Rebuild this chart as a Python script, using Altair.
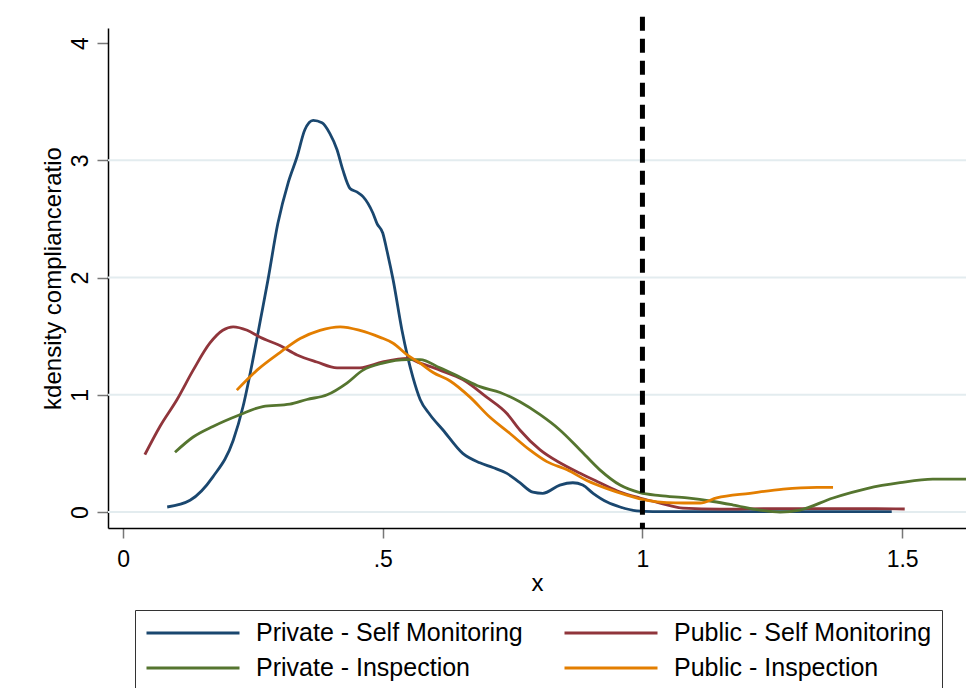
import altair as alt
import pandas as pd

# Kernel density estimates of the compliance ratio, by ownership and regime
series_names = [
    "Private - Self Monitoring",
    "Private - Inspection",
    "Public - Self Monitoring",
    "Public - Inspection",
]
series_colors = ["#1a476f", "#55752f", "#90353b", "#e37e00"]

priv_self_x = [0.085, 0.129, 0.173, 0.212, 0.231, 0.250, 0.265, 0.279, 0.298, 0.318,
               0.335, 0.350, 0.366, 0.383, 0.398, 0.412, 0.423, 0.437, 0.450, 0.462,
               0.481, 0.489, 0.500, 0.508, 0.520, 0.537, 0.558, 0.572, 0.591, 0.616,
               0.654, 0.687, 0.712, 0.739, 0.764, 0.789, 0.808, 0.841, 0.866, 0.885,
               0.905, 0.932, 0.957, 0.989, 1.020, 1.100, 1.200, 1.300, 1.400, 1.480]
priv_self_y = [0.043, 0.10, 0.30, 0.61, 0.90, 1.30, 1.65, 1.98, 2.46, 2.81,
               3.03, 3.26, 3.34, 3.32, 3.23, 3.09, 2.92, 2.76, 2.73, 2.69,
               2.55, 2.46, 2.38, 2.23, 1.98, 1.55, 1.15, 0.96, 0.83, 0.70,
               0.50, 0.42, 0.38, 0.33, 0.25, 0.17, 0.16, 0.23, 0.25, 0.23,
               0.16, 0.085, 0.043, 0.01, 0.003, 0.003, 0.003, 0.003, 0.003, 0.003]

pub_self_x = [0.042, 0.071, 0.104, 0.135, 0.167, 0.192, 0.212, 0.239, 0.264, 0.302,
              0.335, 0.373, 0.412, 0.456, 0.500, 0.547, 0.572, 0.610, 0.654, 0.700,
              0.739, 0.764, 0.803, 0.841, 0.880, 0.918, 0.957, 0.995, 1.034, 1.078,
              1.149, 1.250, 1.350, 1.450, 1.505]
pub_self_y = [0.49, 0.73, 0.96, 1.21, 1.44, 1.55, 1.58, 1.55, 1.49, 1.42,
              1.34, 1.28, 1.23, 1.23, 1.28, 1.31, 1.27, 1.21, 1.13, 0.98,
              0.84, 0.70, 0.53, 0.42, 0.33, 0.25, 0.17, 0.12, 0.077, 0.034,
              0.025, 0.03, 0.03, 0.03, 0.026]

priv_insp_x = [0.100, 0.135, 0.173, 0.225, 0.269, 0.321, 0.354, 0.393, 0.431, 0.462,
               0.500, 0.547, 0.572, 0.610, 0.649, 0.687, 0.726, 0.764, 0.803, 0.841,
               0.880, 0.918, 0.957, 0.995, 1.034, 1.086, 1.136, 1.175, 1.226, 1.265,
               1.303, 1.367, 1.432, 1.496, 1.559, 1.630]
priv_insp_y = [0.51, 0.64, 0.73, 0.83, 0.90, 0.92, 0.96, 1.00, 1.10, 1.21,
               1.27, 1.30, 1.30, 1.23, 1.15, 1.07, 1.02, 0.94, 0.83, 0.70,
               0.53, 0.36, 0.23, 0.165, 0.14, 0.12, 0.09, 0.06, 0.017, 0.0,
               0.017, 0.12, 0.20, 0.25, 0.28, 0.28]

pub_insp_x = [0.219, 0.258, 0.302, 0.341, 0.379, 0.418, 0.456, 0.495, 0.520, 0.547,
              0.572, 0.597, 0.629, 0.668, 0.706, 0.745, 0.783, 0.816, 0.855, 0.893,
              0.932, 0.970, 1.009, 1.047, 1.080, 1.111, 1.143, 1.207, 1.271, 1.336,
              1.367]
pub_insp_y = [1.04, 1.21, 1.36, 1.48, 1.55, 1.58, 1.55, 1.49, 1.44, 1.34,
              1.27, 1.19, 1.12, 0.98, 0.81, 0.67, 0.53, 0.43, 0.36, 0.27,
              0.20, 0.145, 0.10, 0.08, 0.077, 0.077, 0.12, 0.16, 0.196, 0.21,
              0.21]

x_ticks = [0, 0.5, 1, 1.5]
x_tick_labels = ["0", ".5", "1", "1.5"]
y_ticks = [0, 1, 2, 3, 4]
grid_values = [0, 1, 2, 3]
cutoff = 1.0

x_domain = [-0.029, 1.623]
y_domain = [-0.136, 4.128]
cutoff_top = 4.224

FONT = "Liberation Sans"

# drawing order: the four curves in their plotting sequence
draw_order = [
    ("Private - Self Monitoring", priv_self_x, priv_self_y),
    ("Public - Self Monitoring", pub_self_x, pub_self_y),
    ("Private - Inspection", priv_insp_x, priv_insp_y),
    ("Public - Inspection", pub_insp_x, pub_insp_y),
]
frames = [pd.DataFrame({"x": xs, "y": ys, "group": name}) for name, xs, ys in draw_order]
curves = pd.concat(frames, ignore_index=True)
curves["order"] = range(len(curves))

label_expr = " : ".join(
    f"datum.value == {v} ? '{lab}'" for v, lab in zip(x_ticks, x_tick_labels)
) + " : ''"

x_scale = alt.Scale(domain=x_domain, nice=False, zero=False)
y_scale = alt.Scale(domain=y_domain, nice=False, zero=False)

x_axis = alt.Axis(
    values=x_ticks,
    labelExpr=label_expr,
    title="x",
    tickSize=10,
    tickColor="#777777",
    tickWidth=1.5,
    domainColor="black",
    domainWidth=1.5,
    labelFontSize=23,
    labelPadding=10,
    labelColor="black",
    titleFontSize=24,
    titleFontWeight="normal",
    titleColor="black",
    titlePadding=0,
    grid=False,
)
y_axis = alt.Axis(
    values=y_ticks,
    format="d",
    labelAngle=-90,
    labelAlign="center",
    labelBaseline="bottom",
    labelFontSize=23,
    labelPadding=5,
    labelColor="black",
    tickSize=11,
    tickColor="#777777",
    tickWidth=1.5,
    domainColor="black",
    domainWidth=1.5,
    title="kdensity complianceratio",
    titleFontSize=24,
    titleFontWeight="normal",
    titleColor="black",
    titlePadding=4,
    grid=False,
)

grid = alt.Chart(pd.DataFrame({"g": grid_values})).mark_rule(
    color="#e3ecef", strokeWidth=2
).encode(y=alt.Y("g:Q", scale=y_scale, axis=y_axis))

lines = alt.Chart(curves).mark_line(strokeWidth=2.8, interpolate="monotone").encode(
    x=alt.X("x:Q", scale=x_scale, axis=x_axis),
    y=alt.Y("y:Q", scale=y_scale, axis=y_axis),
    color=alt.Color(
        "group:N",
        scale=alt.Scale(domain=series_names, range=series_colors),
        legend=alt.Legend(
            orient="none",
            legendX=27,
            legendY=582,
            columns=2,
            title=None,
            symbolType="stroke",
            symbolSize=8649,
            symbolStrokeWidth=3,
            clipHeight=26,
            rowPadding=9,
            columnPadding=40,
            labelOffset=15,
            labelFontSize=25,
            labelColor="black",
            labelLimit=400,
            strokeColor="#333333",
            fillColor="white",
            padding=10,
        ),
    ),
    order="order:Q",
)

cut = alt.Chart(pd.DataFrame({"x": [cutoff], "top": [cutoff_top], "bottom": [y_domain[0]]})).mark_rule(
    color="black", strokeWidth=5, strokeDash=[14, 8], clip=False
).encode(
    x=alt.X("x:Q", scale=x_scale),
    y=alt.Y("top:Q", scale=y_scale),
    y2="bottom:Q",
)

chart = alt.layer(grid, lines, cut).properties(
    width=858,
    height=500,
    autosize=alt.AutoSizeParams(type="none"),
    padding={"left": 108, "top": 28, "right": 0, "bottom": 160},
    background="white",
).configure(font=FONT).configure_view(stroke=None)

chart.save("out.html", embed_options={"renderer": "svg", "actions": False})
